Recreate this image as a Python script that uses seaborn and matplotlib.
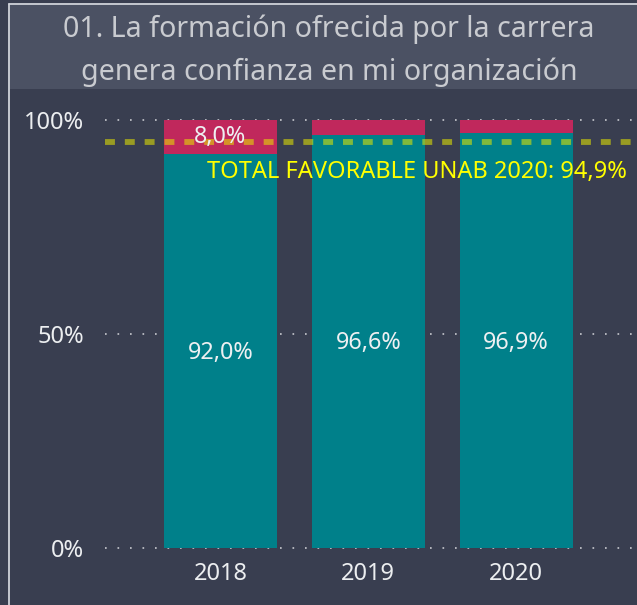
import matplotlib
matplotlib.use("Agg")
import matplotlib.pyplot as plt
from matplotlib.patches import Rectangle
from matplotlib.lines import Line2D
import seaborn as sns

# --- Data ---
YEARS = ["2018", "2019", "2020"]
FAVORABLE = [92.0, 96.6, 96.9]
UNFAVORABLE = [8.0, 3.4, 3.1]
FAV_LABELS = ["92,0%", "96,6%", "96,9%"]
UNFAV_LABELS = ["8,0%", "", ""]
TOTAL_UNAB = 94.9
TOTAL_TEXT = "TOTAL FAVORABLE UNAB 2020: 94,9%"
TITLE = "01. La formación ofrecida por la carrera\ngenera confianza en mi organización"
Y_TICKS = [0, 50, 100]
Y_TICK_LABELS = ["0%", "50%", "100%"]

# --- Style ---
BG = "#393e50"
BAND = "#4b5163"
TEAL = "#00808a"
RED = "#c0285c"
sns.set_theme(style="dark")
plt.rcParams["font.family"] = ["Noto Sans", "DejaVu Sans"]

W, H = 637, 605
fig = plt.figure(figsize=(W / 100, H / 100), dpi=100, facecolor=BG)

# title band and border
fig.patches.append(Rectangle((9.5 / W, 1 - 89 / H), 1, 84.5 / H, transform=fig.transFigure,
                             facecolor=BAND, edgecolor="none", zorder=0))
fig.lines.append(Line2D([9 / W, 9 / W], [0, 1 - 4 / H], transform=fig.transFigure,
                        color="#d0d3da", lw=1.3))
fig.lines.append(Line2D([9 / W, 1], [1 - 4 / H, 1 - 4 / H], transform=fig.transFigure,
                        color="#d0d3da", lw=1.3))
fig.text(329 / W, 1 - 50.5 / H, TITLE, ha="center", va="center", fontsize=20.6,
         color="#c9cbd0", linespacing=1.6)

ax = fig.add_axes([105 / W, 57 / H, (W - 105) / W + 0.01, 428 / H])
ax.set_facecolor(BG)

totals = [f + u for f, u in zip(FAVORABLE, UNFAVORABLE)]
sns.barplot(x=YEARS, y=totals, color=RED, saturation=1, width=0.764, linewidth=0,
            ax=ax, zorder=2)
sns.barplot(x=YEARS, y=FAVORABLE, color=TEAL, saturation=1, width=0.764, linewidth=0,
            ax=ax, zorder=3)

for i, (f, u) in enumerate(zip(FAVORABLE, UNFAVORABLE)):
    ax.text(i, f / 2 - 0.5, FAV_LABELS[i], ha="center", va="center", fontsize=16.8,
            color="#eef0f2", zorder=5)
    if UNFAV_LABELS[i]:
        ax.text(i, f + u / 2, UNFAV_LABELS[i], ha="center", va="center", fontsize=16.8,
                color="#eef0f2", zorder=5)

# dotted grid
for v in Y_TICKS:
    ax.axhline(v, color="#c8cad0", lw=1.2, linestyle=(0, (1, 6.5)), zorder=1, clip_on=False)

# reference line
ax.axhline(TOTAL_UNAB, color="#e6e600", alpha=0.56, lw=4.2, linestyle=(0, (1.7, 1.7)), zorder=4)
fig.text(627 / W, 1 - 172 / H, TOTAL_TEXT, ha="right", va="center", fontsize=17,
         color="#ffff00", zorder=10)

ax.set_xlim(-0.78, 2.86)
ax.set_ylim(0, 100)
ax.set_yticks(Y_TICKS)
ax.set_yticklabels(Y_TICK_LABELS)
ax.tick_params(axis="y", length=0, pad=15, labelsize=17, labelcolor="#eceef0")
ax.tick_params(axis="x", length=0, pad=10, labelsize=17, labelcolor="#eceef0")
ax.set_xlabel("")
ax.set_ylabel("")
ax.grid(False)
for s in ax.spines.values():
    s.set_visible(False)

fig.savefig("out.png", dpi=100, facecolor=BG)
